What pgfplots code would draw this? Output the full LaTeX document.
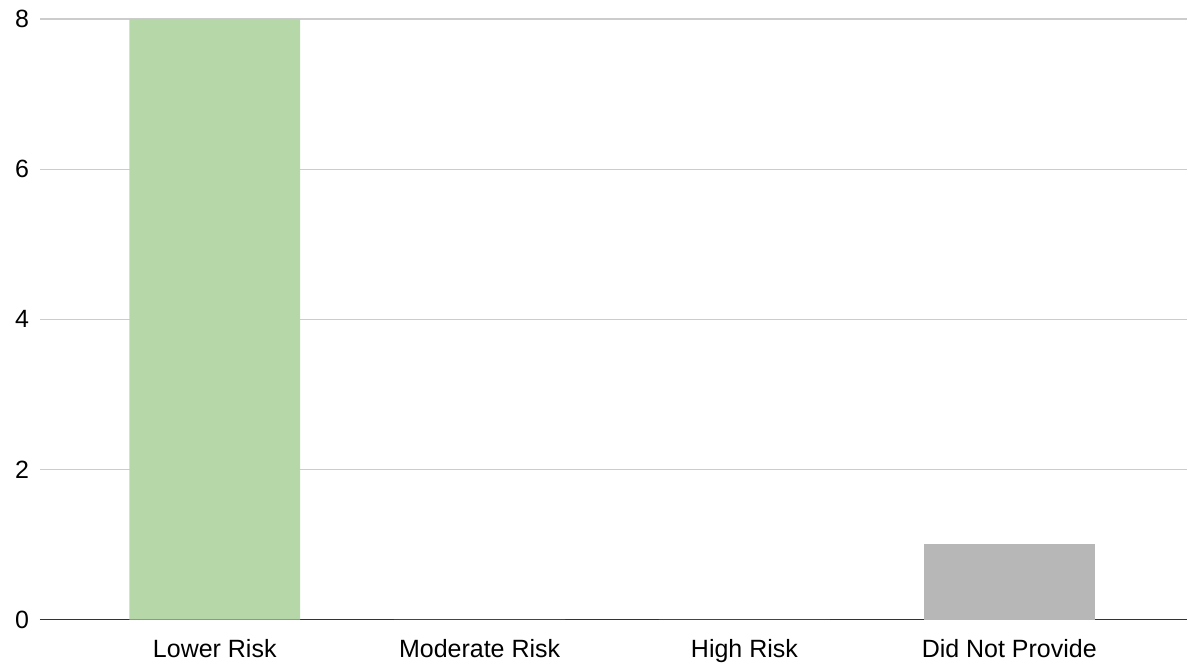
\documentclass[border=0pt]{standalone}
\usepackage{pgfplots}
\pgfplotsset{compat=1.18}
\usepackage{fontspec}
\setmainfont{Liberation Sans}
\definecolor{barGreen}{HTML}{B6D7A8}
\definecolor{barGray}{HTML}{B7B7B7}
\definecolor{gridGray}{HTML}{CCCCCC}
\definecolor{axisDark}{HTML}{333333}

\begin{document}
\begin{tikzpicture}
\begin{axis}[
    scale only axis,
    width=574pt, height=300.5pt,
    font=\fontsize{12.5}{14}\selectfont,
    /pgf/number format/assume math mode=true,
    xmin=-0.66, xmax=3.672,
    ymin=0, ymax=8,
    ytick={0,2,4,6,8},
    xtick={0,1,2,3},
    xticklabels={Lower Risk, Moderate Risk, High Risk, Did Not Provide},
    major tick length=0pt,
    axis lines*=left,
    x axis line style={draw=axisDark, line width=0.8pt},
    y axis line style={draw=none},
    ymajorgrids,
    grid style={draw=gridGray, line width=0.6pt},
    yticklabel style={xshift=-2pt},
    xticklabel style={yshift=-6.5pt},
    ybar, bar width=85.5pt, bar shift=0pt,
    clip=false,
]
\addplot[fill=barGreen, draw=none] coordinates {(0,8) (1,0) (2,0)};
\addplot[fill=barGray, draw=none] coordinates {(3,1)};
% white margins as in the reference
\path (rel axis cs:0,1) -- ++(0pt,9.5pt);
\path (rel axis cs:0,0) -- ++(-20pt,-22pt);
\end{axis}
\end{tikzpicture}
\end{document}
